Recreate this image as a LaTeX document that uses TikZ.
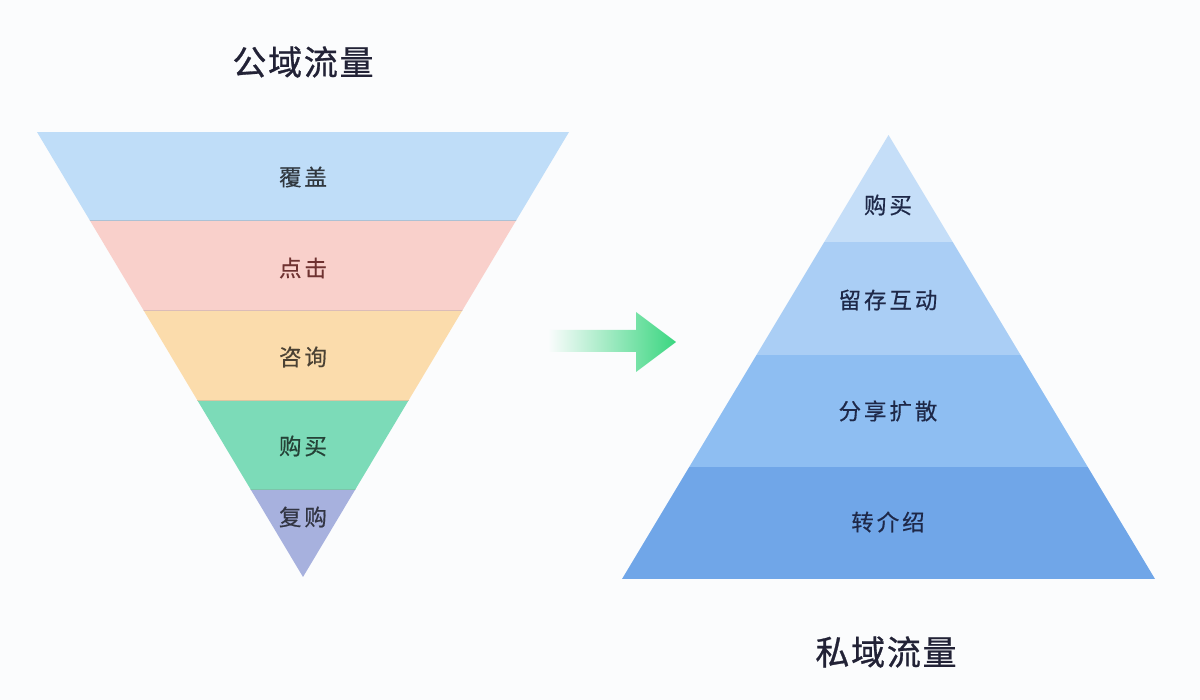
\documentclass[tikz,border=0pt]{standalone}
\usepackage{fontspec}
\usepackage{xcolor}
\usepackage{tikz}
\usetikzlibrary{calc}
\newfontfamily\titlecjk[LetterSpace=5, FakeBold=0.8]{Noto Sans CJK SC}
\newfontfamily\labelcjk[LetterSpace=13, FakeBold=0.5]{Noto Sans CJK SC}
\definecolor{pagebg}{RGB}{251,252,253}
\definecolor{coverblue}{RGB}{191,221,248}
\definecolor{clickpink}{RGB}{249,208,203}
\definecolor{askorange}{RGB}{251,220,172}
\definecolor{buygreen}{RGB}{124,219,184}
\definecolor{rebuypurple}{RGB}{167,177,222}
\definecolor{pyrone}{RGB}{197,222,248}
\definecolor{pyrtwo}{RGB}{170,206,245}
\definecolor{pyrthree}{RGB}{142,190,242}
\definecolor{pyrfour}{RGB}{112,166,232}
\definecolor{arrowgreen}{RGB}{58,214,128}
\definecolor{titleink}{RGB}{34,34,54}
\definecolor{pyrink}{RGB}{30,40,72}
\newcommand{\funneltop}{132}
\newcommand{\funnelapex}{577}
\tikzset{
    title/.style={font=\titlecjk\fontsize{34}{34}\selectfont, text=titleink, inner sep=0pt},
    bandlabel/.style={font=\labelcjk\fontsize{22.5}{22.5}\selectfont, inner sep=0pt},
    pyrlabel/.style={bandlabel, text=pyrink},
    sep/.style={line width=0.8pt, draw=#1},
}

\begin{document}
\begin{tikzpicture}[x=1pt, y=-1pt]
    \fill[pagebg] (0,0) rectangle (1200,700);
    \useasboundingbox (0,0) rectangle (1200,700);

    % public funnel
    \coordinate (f-left) at (37,\funneltop);
    \coordinate (f-right) at (569,\funneltop);
    \coordinate (f-apex) at (303,\funnelapex);
    \begin{scope}
        \clip (f-left) -- (f-right) -- (f-apex) -- cycle;
        \fill[coverblue] (30,\funneltop) rectangle (580,220);
        \fill[clickpink] (30,220) rectangle (580,310);
        \fill[askorange] (30,310) rectangle (580,400);
        \fill[buygreen] (30,400) rectangle (580,489);
        \fill[rebuypurple] (30,489) rectangle (580,\funnelapex);
        \draw[sep=coverblue!70!gray] (30,220) -- (580,220);
        \draw[sep=clickpink!75!gray] (30,310) -- (580,310);
        \draw[sep=askorange!75!gray] (30,400) -- (580,400);
        \draw[sep=buygreen!75!gray] (30,489) -- (580,489);
    \end{scope}

    \node[title] (public-title) at (303,62) {公域流量};
    \node[bandlabel, text=coverblue!25!black] (cover) at (303,177) {覆盖};
    \node[bandlabel, text=clickpink!30!black!80!red] (click) at (303,268) {点击};
    \node[bandlabel, text=askorange!30!black] (ask) at (303,357) {咨询};
    \node[bandlabel, text=buygreen!30!black] (buy) at (303,446) {购买};
    \node[bandlabel, text=rebuypurple!30!black] (rebuy) at (303,517) {复购};

    % arrow
    \shade[left color=pagebg, middle color=arrowgreen!55, right color=arrowgreen]
        (548,330) -- (636,330) -- (636,312) -- (676,342) -- (636,372) -- (636,352) -- (548,352) -- cycle;

    % private pyramid
    \coordinate (p-apex) at (888.5,135);
    \coordinate (p-left) at (622,579);
    \coordinate (p-right) at (1155,579);
    \begin{scope}
        \clip (p-apex) -- (p-right) -- (p-left) -- cycle;
        \fill[pyrone] (610,135) rectangle (1170,242);
        \fill[pyrtwo] (610,242) rectangle (1170,355);
        \fill[pyrthree] (610,355) rectangle (1170,467);
        \fill[pyrfour] (610,467) rectangle (1170,579);
    \end{scope}

    \node[pyrlabel] (p-buy) at (888,205) {购买};
    \node[pyrlabel] (p-keep) at (888,300) {留存互动};
    \node[pyrlabel] (p-share) at (888,411) {分享扩散};
    \node[pyrlabel] (p-refer) at (888,522) {转介绍};
    \node[title] (private-title) at (886,652) {私域流量};
\end{tikzpicture}
\end{document}
